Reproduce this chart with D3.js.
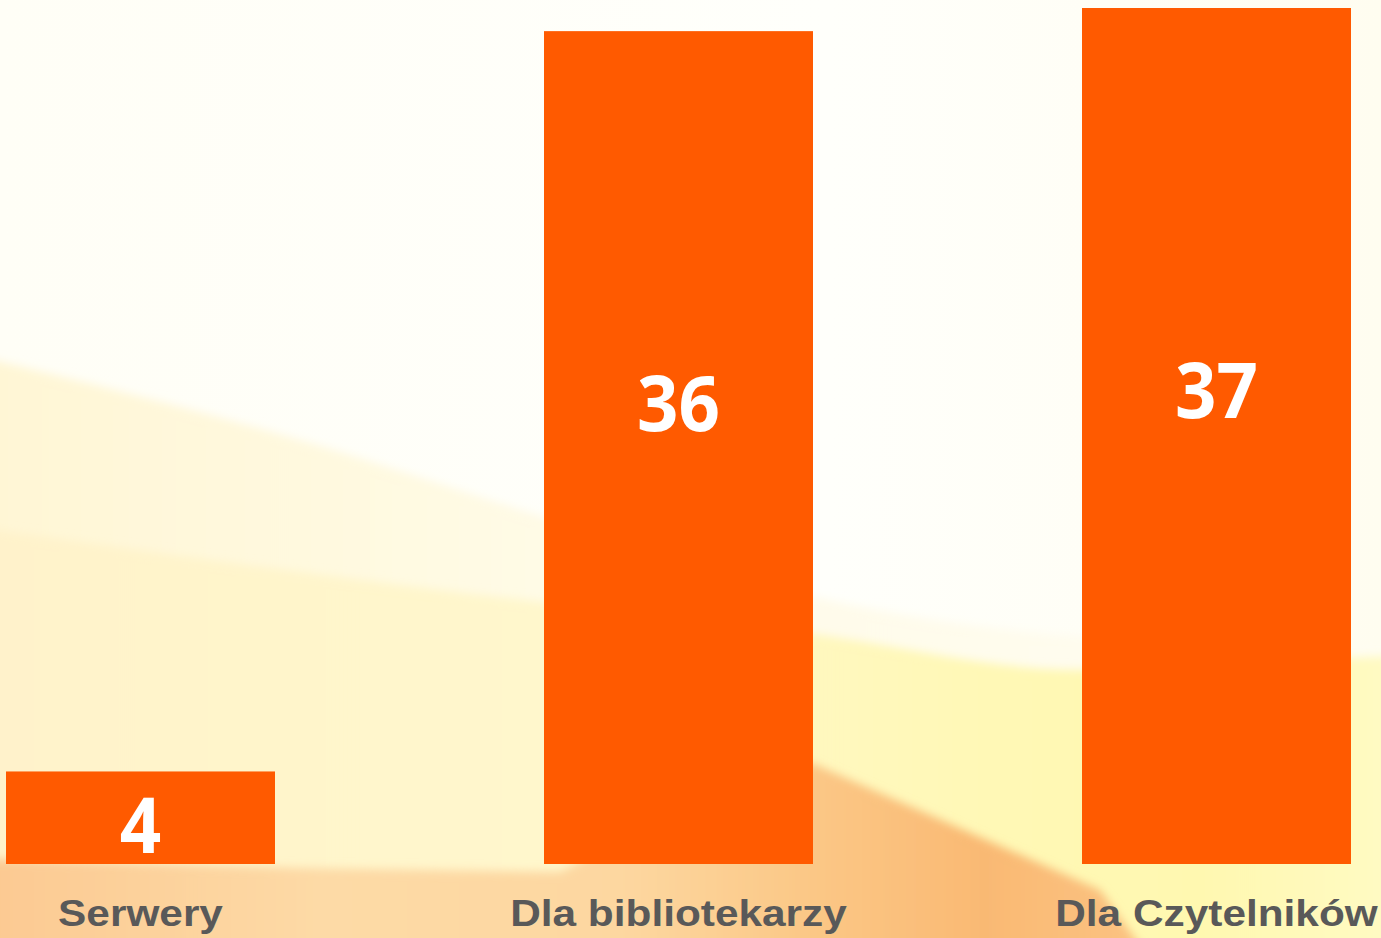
<!DOCTYPE html>
<html>
<head>
<meta charset="utf-8">
<script src="https://cdn.jsdelivr.net/npm/d3@7"></script>
<style>
  html, body { margin: 0; padding: 0; background: #fffef7; overflow: hidden; }
  svg { display: block; }
</style>
</head>
<body>
<svg id="chart" width="1381" height="938"></svg>
<script>
// data
var categories = ["Serwery", "Dla bibliotekarzy", "Dla Czytelników"];
var values = [4, 36, 37];

var W = 1381, H = 938;
var BAR_COLOR = "#ff5a00";
var LABEL_COLOR = "#595959";

var svg = d3.select("#chart");
var defs = svg.append("defs");

defs.append("filter").attr("id", "soft")
    .attr("x", "-10%").attr("y", "-10%").attr("width", "120%").attr("height", "120%")
  .append("feGaussianBlur").attr("stdDeviation", 5);

function grad(id, stops, x1, y1, x2, y2){
    var g = defs.append("linearGradient").attr("id", id)
        .attr("x1", x1).attr("y1", y1).attr("x2", x2).attr("y2", y2);
    stops.forEach(function(s){
        g.append("stop").attr("offset", s[0]).attr("stop-color", s[1]).attr("stop-opacity", s[2] == null ? 1 : s[2]);
    });
}

grad("bgBase", [[0, "#fffef6"], [0.6, "#fffffb"], [1, "#fffdf0"]], 0, 0, 1, 0);
grad("paleBand", [[0, "#fff6d4"], [0.45, "#fffbe8"], [1, "#fffdf2"]], 0, 0, 1, 0);
grad("yellowBand", [[0, "#fff2cb"], [0.4, "#fff7cc"], [0.7, "#fff8b6"], [0.85, "#fff8b0"], [1, "#fffac6"]], 0, 0, 1, 0);
grad("orangeBand", [[0, "#fcc890"], [0.3, "#fddaa6"], [0.55, "#fdd7a0"], [0.7, "#fbc887"], [0.85, "#f9b973"], [1, "#fbc484"]], 0, 0, 1, 0);

// background swooshes (decoration only)
var bg = svg.append("g");
bg.append("rect").attr("width", W).attr("height", H).attr("fill", "url(#bgBase)");

var edge = d3.line().curve(d3.curveMonotoneX);
function band(pts){
    var first = pts[0], last = pts[pts.length - 1];
    return edge(pts) + "L" + last[0] + ",980L" + first[0] + ",980Z";
}

bg.append("path")
    .attr("d", band([[-40, 352], [300, 440], [560, 522], [820, 598], [1100, 638], [1420, 648]]))
    .attr("fill", "url(#paleBand)")
    .attr("filter", "url(#soft)");

bg.append("path")
    .attr("d", band([[-40, 525], [400, 585], [800, 632], [1080, 670], [1250, 662], [1420, 655]]))
    .attr("fill", "url(#yellowBand)")
    .attr("filter", "url(#soft)");

bg.append("path")
    .attr("d", "M-40,858 L300,868 L560,872 L690,805 L812,763 L1100,890 L1165,980 L-40,980 Z")
    .attr("fill", "url(#orangeBand)")
    .attr("filter", "url(#soft)");

// scales
var x = d3.scaleBand()
    .domain(categories)
    .range([6, 1351])
    .paddingInner(0.5)
    .paddingOuter(0);

var y = d3.scaleLinear()
    .domain([0, 37])
    .range([864, 8]);

var data = categories.map(function(c, i){ return {cat: c, value: values[i]}; });

var g = svg.append("g");

g.selectAll("rect.bar").data(data).enter().append("rect")
    .attr("class", "bar")
    .attr("x", function(d){ return x(d.cat); })
    .attr("y", function(d){ return y(d.value); })
    .attr("width", x.bandwidth())
    .attr("height", function(d){ return y(0) - y(d.value); })
    .attr("fill", BAR_COLOR);

// value labels inside bars
var VAL_SIZE = 78;
g.selectAll("text.val").data(data).enter().append("text")
    .attr("class", "val")
    .attr("transform", function(d){
        var h = y(0) - y(d.value);
        var cy = y(d.value) + h * 0.43 + 14;
        var cx = x(d.cat) + x.bandwidth() / 2;
        return "translate(" + cx + "," + (cy + VAL_SIZE * 0.357) + ") scale(0.93,1)";
    })
    .attr("text-anchor", "middle")
    .attr("font-family", "'Open Sans', sans-serif")
    .attr("font-weight", 700)
    .attr("font-size", VAL_SIZE)
    .attr("fill", "#ffffff")
    .text(function(d){ return d.value; });

// category labels
g.selectAll("text.cat").data(data).enter().append("text")
    .attr("class", "cat")
    .attr("transform", function(d){
        return "translate(" + (x(d.cat) + x.bandwidth() / 2) + ",926) scale(1.13,1)";
    })
    .attr("text-anchor", "middle")
    .attr("font-family", "'Liberation Sans', Arial, sans-serif")
    .attr("font-weight", 700)
    .attr("font-size", 37.5)
    .attr("fill", LABEL_COLOR)
    .text(function(d){ return d.cat; });
</script>
</body>
</html>
